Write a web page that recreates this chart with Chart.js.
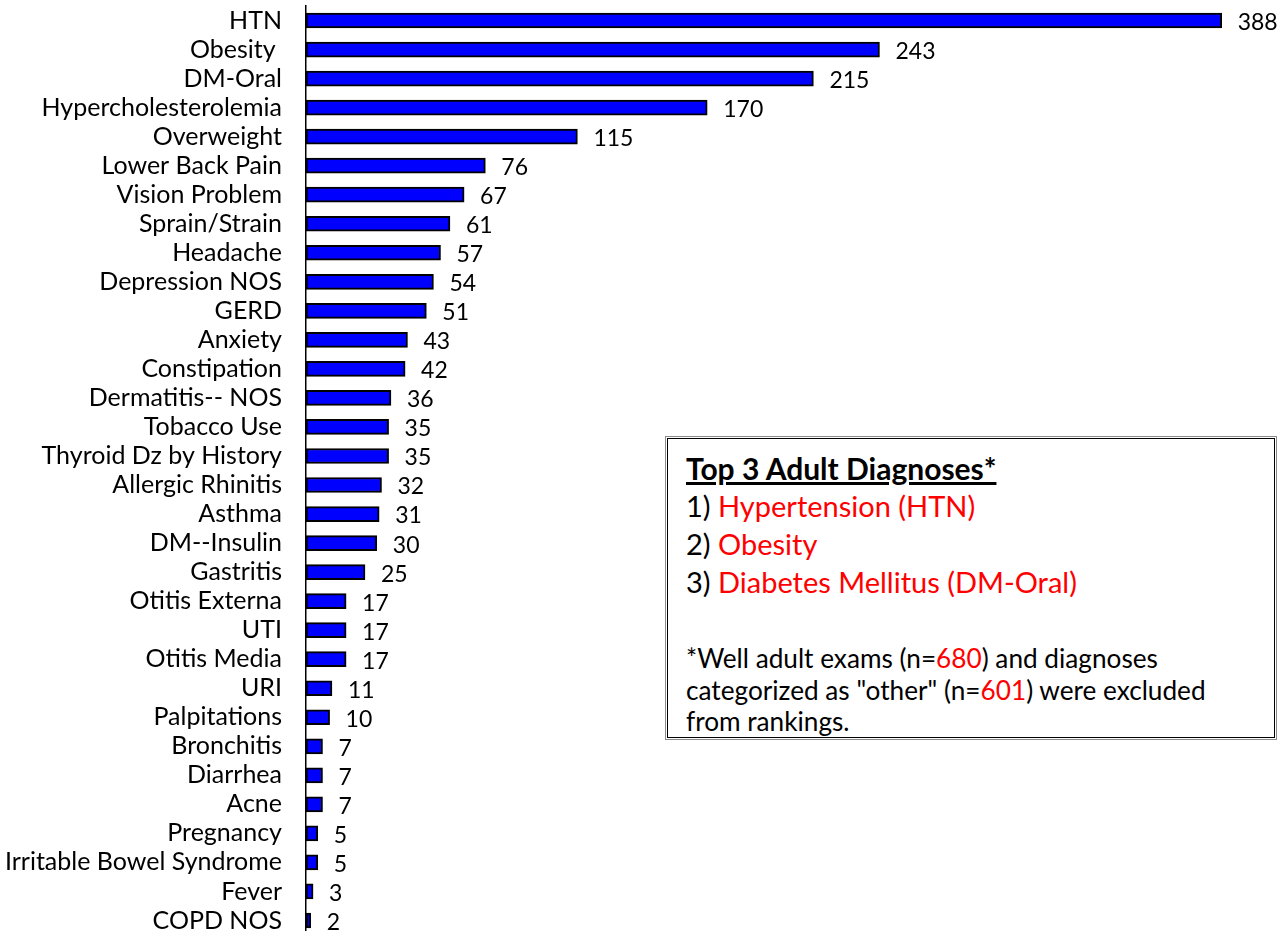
<!DOCTYPE html>
<html>
<head>
<meta charset="utf-8">
<script src="https://cdn.jsdelivr.net/npm/chart.js@4/dist/chart.umd.min.js"></script>
<style>
  html, body { margin: 0; padding: 0; background: #fff; overflow: hidden; width: 1287px; height: 931px; }
  #wrap { position: absolute; left: 0; top: 0; width: 1287px; height: 941px; }
  #box { position: absolute; left: 665px; top: 436px; width: 610px; height: 302px;
         border: 1px solid #8a8a8a; background: #fff; font-family: Lato, sans-serif; color: #000; }
  #inner { position: absolute; left: 1px; top: 1px; right: 1px; bottom: 1px; border: 1px solid #000; }
  .ln { position: absolute; left: 18px; white-space: nowrap; line-height: 1; }
  .red { color: #ff0000; }
</style>
</head>
<body>
<div id="wrap"><canvas id="c" width="1287" height="941"></canvas></div>
<div id="box"><div id="inner">
  <div class="ln" style="top:14px;font-size:30px;font-weight:bold;text-decoration:underline;">Top 3 Adult Diagnoses*</div>
  <div class="ln" style="top:52px;font-size:29px;">1) <span class="red">Hypertension (HTN)</span></div>
  <div class="ln" style="top:90px;font-size:29px;">2) <span class="red">Obesity</span></div>
  <div class="ln" style="top:128px;font-size:29px;">3) <span class="red">Diabetes Mellitus (DM-Oral)</span></div>
  <div class="ln" style="top:206px;font-size:26.2px;">*Well adult exams (n=<span class="red">680</span>) and diagnoses</div>
  <div class="ln" style="top:238px;font-size:26.2px;">categorized as "other" (n=<span class="red">601</span>) were excluded</div>
  <div class="ln" style="top:269px;font-size:26.2px;">from rankings.</div>
</div></div>
<script>
const categories = ["HTN", "Obesity ", "DM-Oral", "Hypercholesterolemia", "Overweight", "Lower Back Pain",
  "Vision Problem", "Sprain/Strain", "Headache", "Depression NOS", "GERD", "Anxiety", "Constipation",
  "Dermatitis-- NOS", "Tobacco Use", "Thyroid Dz by History", "Allergic Rhinitis", "Asthma",
  "DM--Insulin", "Gastritis", "Otitis Externa", "UTI", "Otitis Media", "URI", "Palpitations",
  "Bronchitis", "Diarrhea", "Acne", "Pregnancy", "Irritable Bowel Syndrome", "Fever", "COPD NOS"];
const counts = [388, 243, 215, 170, 115, 76, 67, 61, 57, 54, 51, 43, 42, 36, 35, 35, 32, 31, 30, 25,
  17, 17, 17, 11, 10, 7, 7, 7, 5, 5, 3, 2];

const FONT = 'Lato, sans-serif';

const valueLabels = {
  id: 'valueLabels',
  afterDatasetsDraw(chart) {
    const ctx = chart.ctx;
    const meta = chart.getDatasetMeta(0);
    ctx.save();
    ctx.font = '23px ' + FONT;
    ctx.fillStyle = '#000';
    ctx.textAlign = 'left';
    ctx.textBaseline = 'middle';
    meta.data.forEach((bar, i) => {
      ctx.fillText(String(counts[i]), bar.x + 16, bar.y + 2);
    });
    ctx.restore();
  }
};

new Chart(document.getElementById('c'), {
  type: 'bar',
  data: {
    labels: categories,
    datasets: [{
      data: counts,
      backgroundColor: '#0000ff',
      borderColor: '#000000',
      borderWidth: 2,
      borderSkipped: false,
      barThickness: 15
    }]
  },
  options: {
    indexAxis: 'y',
    responsive: false,
    animation: false,
    layout: { padding: { left: 0, right: 37, top: 6, bottom: 6 } },
    plugins: { legend: { display: false }, tooltip: { enabled: false } },
    scales: {
      x: { display: false, min: 0, max: 400 },
      y: {
        grid: { display: false, drawTicks: false },
        border: { display: true, color: '#000', width: 1.5 },
        ticks: { color: '#000', font: { family: FONT, size: 25 }, padding: 24, autoSkip: false },
        afterFit(scale) { scale.width = 306; scale.paddingTop = 0; scale.paddingBottom = 0; }
      }
    }
  },
  plugins: [valueLabels]
});
</script>
</body>
</html>
